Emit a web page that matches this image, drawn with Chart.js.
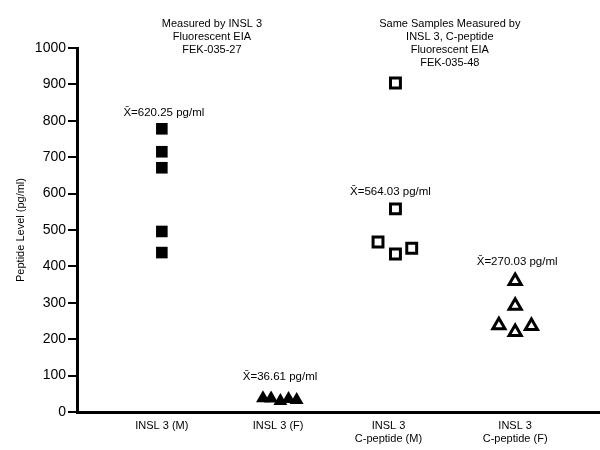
<!DOCTYPE html>
<html>
<head>
<meta charset="utf-8">
<script src="https://cdn.jsdelivr.net/npm/chart.js@4.4.1/dist/chart.umd.min.js"></script>
<style>
  body { margin: 0; background: #fff; }
</style>
</head>
<body>
<canvas id="peptideChart" width="600" height="450"></canvas>
<script>
// category labels and where they sit on the (linear) x axis
const categories = [["INSL 3 (M)"], ["INSL 3 (F)"], ["INSL 3", "C-peptide (M)"], ["INSL 3", "C-peptide (F)"]];
const categoryX = [0.73, 1.73, 2.68, 3.77];

// readings (pg/ml) with their small horizontal jitter
const inslMale = [778, 715, 671, 496, 438];
const inslMaleX = [0.73, 0.73, 0.73, 0.73, 0.73];
const inslFemale = [38, 37, 30, 36, 33];
const inslFemaleX = [1.6, 1.67, 1.75, 1.82, 1.89];
const cpepMale = [904, 558, 467, 434, 450];
const cpepMaleX = [2.74, 2.74, 2.59, 2.74, 2.88];
const cpepFemale = [360, 292, 238, 220, 236];
const cpepFemaleX = [3.77, 3.77, 3.63, 3.77, 3.91];

// mean labels and the y value they are written at
const meanLabels = ["X\u0304=620.25 pg/ml", "X\u0304=36.61 pg/ml", "X\u0304=564.03 pg/ml", "X\u0304=270.03 pg/ml"];
const meanLabelY = [823, 97, 605, 413];

const headerLeft = ["Measured by INSL 3", "Fluorescent EIA", "FEK-035-27"];
const headerRight = ["Same Samples Measured by", "INSL 3, C-peptide", "Fluorescent EIA", "FEK-035-48"];

const yTicks = [0, 100, 200, 300, 400, 500, 600, 700, 800, 900, 1000];

function toPoints(xs, ys) {
  return ys.map((y, i) => ({ x: xs[i], y: y }));
}

const FONT = "'Liberation Sans', Arial, sans-serif";

// draws the mean values and the two group headers
const annotations = {
  id: "annotations",
  afterDatasetsDraw(chart) {
    const ctx = chart.ctx;
    const xs = chart.scales.x;
    const ys = chart.scales.y;
    ctx.save();
    ctx.fillStyle = "#000";
    ctx.font = "11.5px " + FONT;
    ctx.textAlign = "center";
    ctx.textBaseline = "middle";

    meanLabels.forEach((txt, i) => {
      const px = xs.getPixelForValue(categoryX[i]);
      const py = ys.getPixelForValue(meanLabelY[i]);
      ctx.fillText(txt, px + 2, py);
    });

    ctx.font = "11px " + FONT;
    const leftMid = (xs.getPixelForValue(categoryX[0]) + xs.getPixelForValue(categoryX[1])) / 2 - 8;
    const rightMid = (xs.getPixelForValue(categoryX[2]) + xs.getPixelForValue(categoryX[3])) / 2 - 2;
    headerLeft.forEach((line, i) => ctx.fillText(line, leftMid, 23.5 + i * 13.3));
    headerRight.forEach((line, i) => ctx.fillText(line, rightMid, 23.5 + i * 13.3));
    ctx.restore();
  }
};

const ctx = document.getElementById("peptideChart").getContext("2d");
const peptideChart = new Chart(ctx, {
  type: "scatter",
  data: {
    datasets: [
      {
        label: "INSL 3 (M)",
        data: toPoints(inslMaleX, inslMale),
        pointStyle: "rect",
        pointRadius: 8.2,
        backgroundColor: "#000",
        borderColor: "#000",
        borderWidth: 0
      },
      {
        label: "INSL 3 (F)",
        data: toPoints(inslFemaleX, inslFemale),
        pointStyle: "triangle",
        pointRadius: 8,
        backgroundColor: "#000",
        borderColor: "#000",
        borderWidth: 0
      },
      {
        label: "INSL 3 C-peptide (M)",
        data: toPoints(cpepMaleX, cpepMale),
        pointStyle: "rect",
        pointRadius: 7,
        backgroundColor: "#fff",
        borderColor: "#000",
        borderWidth: 3
      },
      {
        label: "INSL 3 C-peptide (F)",
        data: toPoints(cpepFemaleX, cpepFemale),
        pointStyle: "triangle",
        pointRadius: 7,
        backgroundColor: "#fff",
        borderColor: "#000",
        borderWidth: 3
      }
    ]
  },
  options: {
    responsive: false,
    animation: false,
    layout: { autoPadding: false, padding: { top: 48, right: 0, left: 0, bottom: 0 } },
    plugins: {
      legend: { display: false },
      tooltip: { enabled: false }
    },
    scales: {
      x: {
        type: "linear",
        min: 0,
        max: 4.5,
        afterBuildTicks: (scale) => {
          scale.ticks = categoryX.map(v => ({ value: v }));
        },
        afterFit: (scale) => {
          scale.height = 38;
          scale.paddingLeft = 0;
          scale.paddingRight = 0;
        },
        grid: { display: false, drawTicks: false },
        border: { display: true, width: 3, color: "#000" },
        ticks: {
          autoSkip: false,
          maxRotation: 0,
          padding: 7,
          color: "#000",
          font: { family: FONT, size: 11, lineHeight: 1.2 },
          callback: (value, index) => categories[index]
        }
      },
      y: {
        min: 0,
        max: 1000,
        afterBuildTicks: (scale) => {
          scale.ticks = yTicks.map(v => ({ value: v }));
        },
        afterFit: (scale) => { scale.width = 77; },
        grid: {
          drawOnChartArea: false,
          drawTicks: true,
          tickLength: 9,
          lineWidth: 2,
          color: "#000"
        },
        border: { display: true, width: 3, color: "#000" },
        ticks: {
          padding: 2,
          color: "#000",
          font: { family: FONT, size: 14 },
          callback: (value) => String(value)
        },
        title: {
          display: true,
          text: "Peptide Level (pg/ml)",
          color: "#000",
          font: { family: FONT, size: 11 },
          padding: { top: 14, bottom: 0 }
        }
      }
    }
  },
  plugins: [annotations]
});
</script>
</body>
</html>
